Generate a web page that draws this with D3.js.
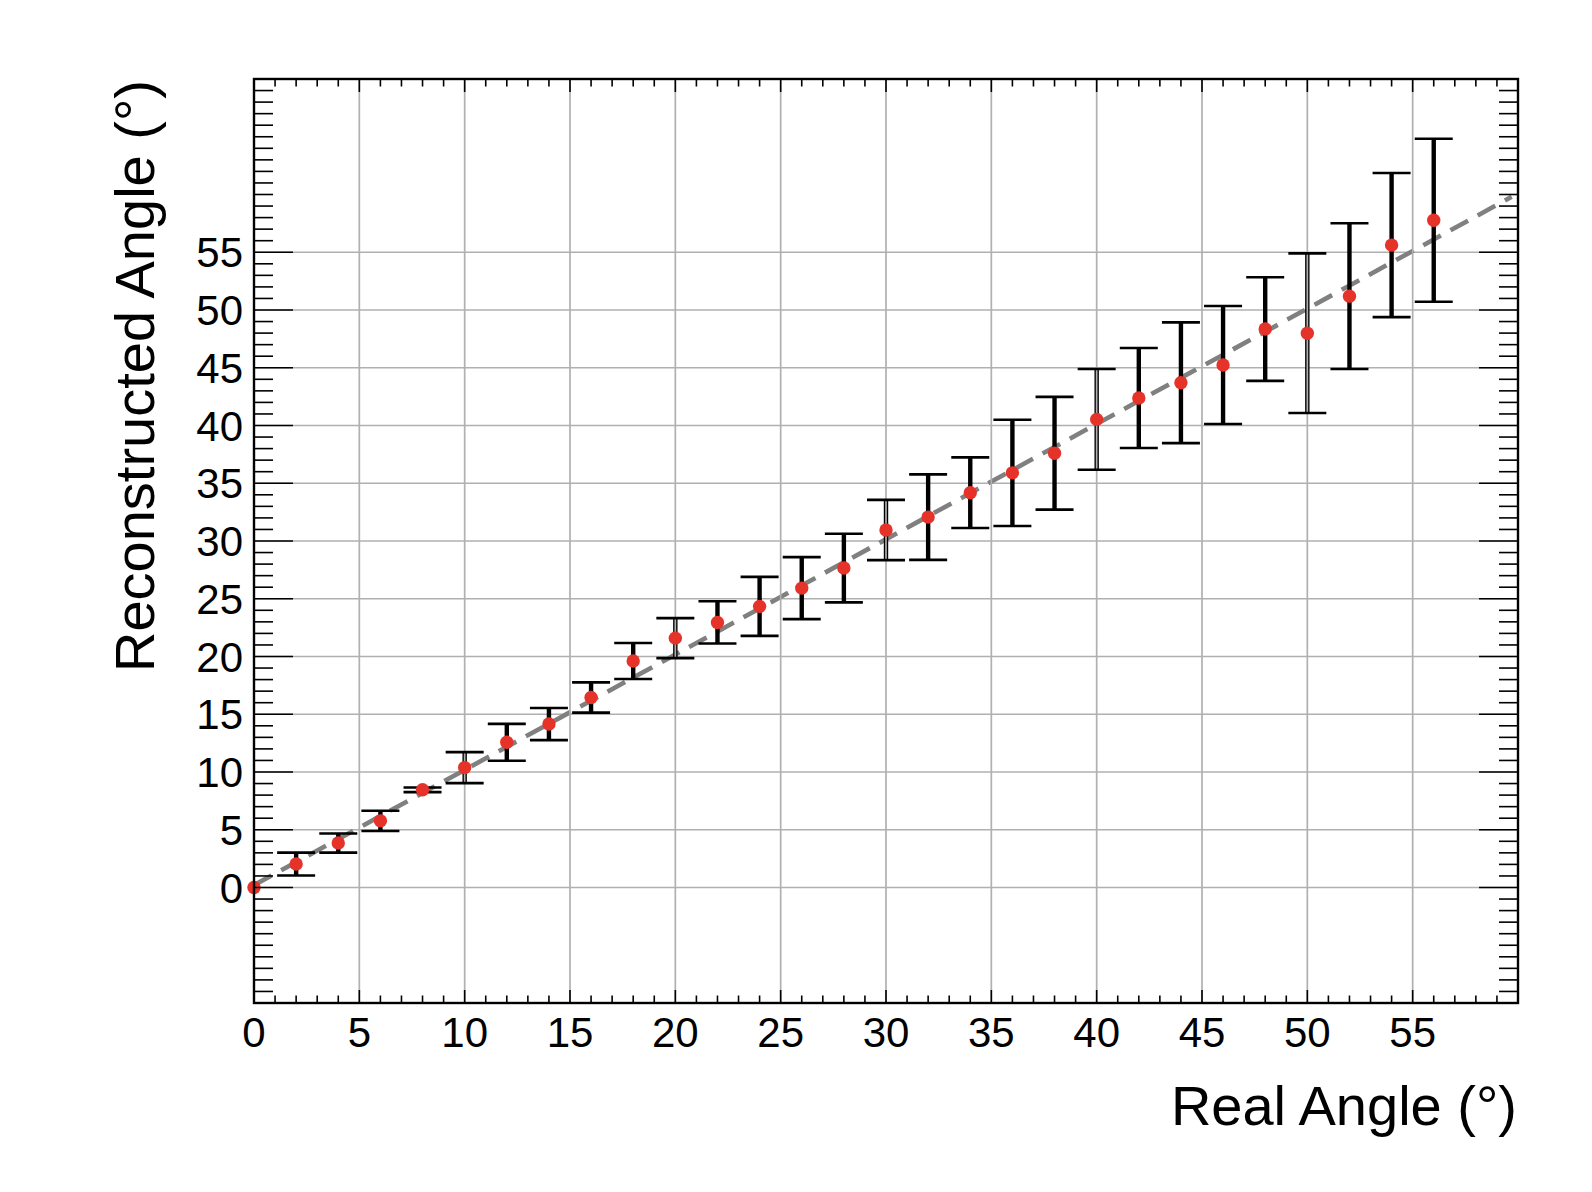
<!DOCTYPE html>
<html>
<head>
<meta charset="utf-8">
<script src="https://cdn.jsdelivr.net/npm/d3@7"></script>
<style>
  html, body { margin: 0; padding: 0; background: #fff; }
  svg { display: block; font-family: "Liberation Sans", Arial, Helvetica, sans-serif; }
</style>
</head>
<body>
<svg id="chart" width="1592" height="1192"></svg>
<script>
// ---- data ----
const realAngle = [0, 2, 4, 6, 8, 10, 12, 14, 16, 18, 20, 22, 24, 26, 28, 30, 32, 34, 36, 38, 40, 42, 44, 46, 48, 50, 52, 54, 56];
const recoAngle = [0, 2.03, 3.85, 5.77, 8.46, 10.38, 12.57, 14.15, 16.45, 19.61, 21.59, 22.95, 24.34, 25.92, 27.66, 30.95, 32.07, 34.18, 35.9, 37.6, 40.53, 42.38, 43.7, 45.24, 48.35, 47.99, 51.2, 55.62, 57.77];
const recoError = [0, 0.99, 0.83, 0.88, 0.2, 1.34, 1.6, 1.39, 1.31, 1.56, 1.73, 1.83, 2.55, 2.68, 2.97, 2.61, 3.7, 3.06, 4.6, 4.88, 4.36, 4.33, 5.23, 5.11, 4.49, 6.91, 6.31, 6.24, 7.06];
const fitX = [0, 59.7];
const fitY = [0.2, 59.8];
const xTickLabels = [0, 5, 10, 15, 20, 25, 30, 35, 40, 45, 50, 55];
const yTickLabels = [0, 5, 10, 15, 20, 25, 30, 35, 40, 45, 50, 55];
const xTitle = "Real Angle (°)";
const yTitle = "Reconstructed Angle (°)";

// ---- layout ----
const L = 254, R = 1518, T = 79, B = 1003;
const svg = d3.select("#chart");
const x = d3.scaleLinear().domain([0, 60]).range([L, R]);
const y = d3.scaleLinear().domain([-10, 70]).range([B, T]);

const gridColor = "#b0b0b0";

// horizontal gridlines
svg.append("g").selectAll("line").data(yTickLabels).join("line")
  .attr("x1", L).attr("x2", R)
  .attr("y1", d => y(d)).attr("y2", d => y(d))
  .attr("stroke", gridColor).attr("stroke-width", 1.7);

// dashed fit line
svg.append("line")
  .attr("x1", x(fitX[0])).attr("y1", y(fitY[0]))
  .attr("x2", x(fitX[1])).attr("y2", y(fitY[1]))
  .attr("stroke", "#808080").attr("stroke-width", 4.6)
  .attr("stroke-dasharray", "20,11");

const pts = realAngle.map((r, i) => ({ x: r, y: recoAngle[i], e: recoError[i] }));

// error bar verticals
svg.append("g").selectAll("line").data(pts.filter(d => d.e > 0)).join("line")
  .attr("x1", d => x(d.x)).attr("x2", d => x(d.x))
  .attr("y1", d => y(d.y + d.e)).attr("y2", d => y(d.y - d.e))
  .attr("stroke", "#000").attr("stroke-width", 4.4);

// vertical gridlines (drawn over error bar stems)
svg.append("g").selectAll("line").data(xTickLabels.filter(d => d > 0)).join("line")
  .attr("x1", d => x(d)).attr("x2", d => x(d))
  .attr("y1", T).attr("y2", B)
  .attr("stroke", gridColor).attr("stroke-width", 1.7);

// caps
const capHalf = 19;
const capG = svg.append("g");
pts.filter(d => d.e > 0).forEach(d => {
  [d.y + d.e, d.y - d.e].forEach(v => {
    capG.append("line")
      .attr("x1", x(d.x) - capHalf).attr("x2", x(d.x) + capHalf)
      .attr("y1", y(v)).attr("y2", y(v))
      .attr("stroke", "#000").attr("stroke-width", 2.6);
  });
});

// markers
svg.append("g").selectAll("circle").data(pts).join("circle")
  .attr("cx", d => x(d.x)).attr("cy", d => y(d.y))
  .attr("r", 6.7).attr("fill", "#e5332a");

// ---- axes ticks ----
const tickG = svg.append("g").attr("stroke", "#000").attr("stroke-width", 1.6);
const xMinor = d3.range(1, 60);
const yMinor = d3.range(-9, 70);
// bottom & top
xMinor.forEach(v => {
  const major = xTickLabels.includes(v);
  const len = major ? 13 : 7.5;
  tickG.append("line").attr("x1", x(v)).attr("x2", x(v)).attr("y1", B).attr("y2", B - len);
  tickG.append("line").attr("x1", x(v)).attr("x2", x(v)).attr("y1", T).attr("y2", T + len);
});
// left & right
yMinor.forEach(v => {
  const major = yTickLabels.includes(v);
  const len = major ? 39 : 19;
  tickG.append("line").attr("y1", y(v)).attr("y2", y(v)).attr("x1", L).attr("x2", L + len);
  tickG.append("line").attr("y1", y(v)).attr("y2", y(v)).attr("x1", R).attr("x2", R - len);
});

// frame
svg.append("rect").attr("x", L).attr("y", T).attr("width", R - L).attr("height", B - T)
  .attr("fill", "none").attr("stroke", "#000").attr("stroke-width", 2.4);

// tick labels
svg.append("g").selectAll("text").data(xTickLabels).join("text")
  .attr("x", d => x(d)).attr("y", 1047)
  .attr("text-anchor", "middle").attr("font-size", 42).attr("fill", "#000")
  .text(d => d);
svg.append("g").selectAll("text").data(yTickLabels).join("text")
  .attr("x", 243).attr("y", d => y(d) + 15)
  .attr("text-anchor", "end").attr("font-size", 42).attr("fill", "#000")
  .text(d => d);

// titles
svg.append("text").attr("x", 1517).attr("y", 1125)
  .attr("text-anchor", "end").attr("font-size", 56).attr("fill", "#000")
  .text(xTitle);
svg.append("text")
  .attr("transform", "translate(154,80) rotate(-90)")
  .attr("text-anchor", "end").attr("font-size", 56).attr("fill", "#000")
  .text(yTitle);
</script>
</body>
</html>
